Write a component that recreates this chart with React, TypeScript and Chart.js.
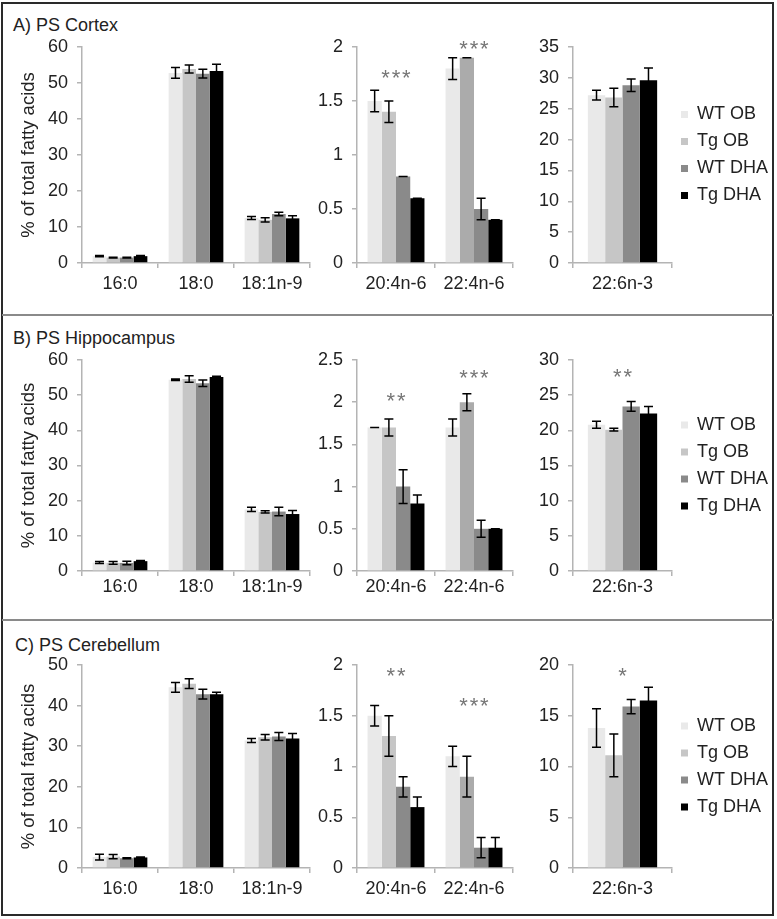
import React, { useEffect, useRef } from 'react';
import { Chart, registerables } from 'chart.js';

Chart.register(...registerables);

// ---------------- data ----------------
const SERIES = ['WT OB', 'Tg OB', 'WT DHA', 'Tg DHA'];
const SERIES_COLORS = ['#e9e9e9', '#c6c6c6', '#8a8a8a', '#000000'];
const TG_OB_N6_COLORS = ['#c6c6c6', '#ababab'];

const MAJOR_FA = ['16:0', '18:0', '18:1n-9'];
const N6_FA = ['20:4n-6', '22:4n-6'];
const DHA_FA = ['22:6n-3'];

const Y_TITLE = '% of total fatty acids';
const PANEL_TITLES = ['A) PS Cortex', 'B) PS Hippocampus', 'C) PS Cerebellum'];

// A) Cortex  (rows = series WT OB, Tg OB, WT DHA, Tg DHA)
const cortexMajorMean = [[1.9, 52.8, 12.5], [1.5, 53.9, 12.0], [1.5, 52.6, 13.6], [1.9, 53.3, 12.4]];
const cortexMajorErr = [[0.15, 1.5, 0.4], [0.1, 1.1, 0.6], [0.1, 1.2, 0.5], [0.15, 1.9, 0.7]];
const cortexN6Mean = [[1.5, 1.8], [1.4, 1.9], [0.8, 0.5], [0.6, 0.4]];
const cortexN6Err = [[0.1, 0.1], [0.1, 0], [0, 0.1], [0, 0]];
const cortexDhaMean = [[27.2], [26.8], [28.8], [29.6]];
const cortexDhaErr = [[0.8], [1.5], [1.0], [2.0]];
const cortexN6Stars = ['***', '***'];
const cortexN6StarAt = [1.75, 2.02];

// B) Hippocampus
const hippoMajorMean = [[2.4, 54.4, 17.5], [2.3, 54.6, 16.8], [2.3, 53.4, 16.9], [2.8, 55.2, 16.2]];
const hippoMajorErr = [[0.3, 0.2, 0.6], [0.4, 0.9, 0.3], [0.5, 0.9, 1.2], [0.2, 0.2, 1.0]];
const hippoN6Mean = [[1.7, 1.7], [1.7, 2.0], [1.0, 0.5], [0.8, 0.5]];
const hippoN6Err = [[0, 0.1], [0.1, 0.1], [0.2, 0.1], [0.1, 0]];
const hippoDhaMean = [[20.8], [20.1], [23.4], [22.4]];
const hippoDhaErr = [[0.5], [0.2], [0.7], [1.0]];
const hippoN6Stars = ['**', '***'];
const hippoN6StarAt = [2.06, 2.33];
const hippoDhaStars = ['**'];
const hippoDhaStarAt = [28.2];

// C) Cerebellum
const cereMajorMean = [[2.7, 44.5, 31.4], [2.8, 45.4, 32.2], [2.4, 42.8, 32.4], [2.6, 42.8, 31.9]];
const cereMajorErr = [[0.7, 1.2, 0.5], [0.5, 1.2, 0.7], [0.1, 1.2, 1.0], [0.1, 0.5, 1.2]];
const cereN6Mean = [[1.5, 1.1], [1.3, 0.9], [0.8, 0.2], [0.6, 0.2]];
const cereN6Err = [[0.1, 0.1], [0.2, 0.2], [0.1, 0.1], [0.1, 0.1]];
const cereDhaMean = [[13.8], [11.1], [15.9], [16.5]];
const cereDhaErr = [[1.9], [2.1], [0.7], [1.3]];
const cereN6Stars = ['**', '***'];
const cereN6StarAt = [1.93, 1.64];
const cereDhaStars = ['*'];
const cereDhaStarAt = [19.3];

// y-axis ranges [max, step]
const Y_MAJOR = [[60, 10], [60, 10], [50, 10]];
const Y_N6 = [[2, 0.5], [2.5, 0.5], [2, 0.5]];
const Y_DHA = [[35, 5], [30, 5], [20, 5]];

// ---------------- rendering ----------------
const FONT = '"Liberation Sans", Arial, Helvetica, sans-serif';
const TEXT = '#222222';
const AXIS = '#b4b4b4';

type Spec = {
  cats: string[];
  means: number[][];
  errs: number[][];
  yMax: number;
  yStep: number;
  stars?: string[];
  starAt?: number[];
  tgObColors?: string[];
  kind: 0 | 1 | 2;
};

const SUBS = [
  { left: 4, width: 308, axisW: 78, padR: 2, catPct: 0.72 },
  { left: 312, width: 203, axisW: 45, padR: 2, catPct: 0.73 },
  { left: 530, width: 246, axisW: 43, padR: 0, catPct: 0.7 },
];
const LEGEND_W = 104;
const PANELS = [
  { areaTop: 47, areaBottom: 263, labelPad: 5, titleTop: 14, titleLeft: 13 },
  { areaTop: 360, areaBottom: 571, labelPad: 0, titleTop: 327, titleLeft: 13 },
  { areaTop: 665, areaBottom: 868, labelPad: 5, titleTop: 634, titleLeft: 15 },
];
const PAD_TOP = 28;
const X_H = 45;

function SubChart({ spec, panel }: { spec: Spec; panel: number }) {
  const ref = useRef<HTMLCanvasElement | null>(null);
  const sub = SUBS[spec.kind];
  const P = PANELS[panel];
  const top = P.areaTop - PAD_TOP;
  const height = P.areaBottom - P.areaTop + PAD_TOP + X_H;

  useEffect(() => {
    if (!ref.current) return;
    const overlay = {
      id: 'errStars',
      afterDatasetsDraw(chart: any) {
        const ctx = chart.ctx;
        const ys = chart.scales.y;
        ctx.save();
        ctx.strokeStyle = '#000';
        ctx.lineWidth = 1.5;
        spec.means.forEach((row, i) => {
          const meta = chart.getDatasetMeta(i);
          meta.data.forEach((bar: any, j: number) => {
            const m = row[j];
            const e = spec.errs[i][j];
            const y1 = ys.getPixelForValue(m + e);
            const y2 = ys.getPixelForValue(m - e);
            const x = bar.x;
            const cw = 4.5;
            ctx.beginPath();
            ctx.moveTo(x, y1);
            ctx.lineTo(x, y2);
            ctx.moveTo(x - cw, y1);
            ctx.lineTo(x + cw, y1);
            ctx.moveTo(x - cw, y2);
            ctx.lineTo(x + cw, y2);
            ctx.stroke();
          });
        });
        if (spec.stars && spec.starAt) {
          ctx.fillStyle = '#767676';
          ctx.font = `22px ${FONT}`;
          ctx.textAlign = 'center';
          ctx.textBaseline = 'middle';
          spec.stars.forEach((s, j) => {
            if (!s) return;
            const x = chart.scales.x.getPixelForValue(j);
            const y = ys.getPixelForValue(spec.starAt![j]);
            ctx.fillText(s.split('').join('\u200A'), x, y + 5);
          });
        }
        ctx.restore();
      },
    };

    const datasets = SERIES.map((name, i) => ({
      label: name,
      data: spec.means[i],
      backgroundColor: i === 1 && spec.tgObColors ? spec.tgObColors : SERIES_COLORS[i],
      borderWidth: 0,
      categoryPercentage: sub.catPct,
      barPercentage: 1,
    }));

    const chart = new Chart(ref.current, {
      type: 'bar',
      data: { labels: spec.cats, datasets },
      plugins: [overlay],
      options: {
        animation: false,
        responsive: false,
        devicePixelRatio: 1,
        layout: { padding: { top: PAD_TOP, right: sub.padR, left: 0, bottom: 0 } },
        plugins: {
          tooltip: { enabled: false },
          legend: {
            display: spec.kind === 2,
            position: 'right',
            align: 'center',
            fullSize: false,
            maxWidth: LEGEND_W,
            labels: {
              boxWidth: 7,
              boxHeight: 7,
              padding: 9,
              color: TEXT,
              font: { size: 18, family: FONT },
            },
          },
        },
        scales: {
          x: {
            grid: { display: true, offset: true, drawOnChartArea: false, drawTicks: true, tickLength: 5, color: AXIS, lineWidth: 1.5 },
            border: { display: true, color: AXIS, width: 1.5 },
            ticks: { color: TEXT, font: { size: 18, family: FONT }, padding: P.labelPad, maxRotation: 0, autoSkip: false },
            afterFit: (s: any) => { s.height = X_H; },
          },
          y: {
            min: 0,
            max: spec.yMax,
            grid: { display: true, drawOnChartArea: false, drawTicks: true, tickLength: 5, color: AXIS, lineWidth: 1.5 },
            border: { display: true, color: AXIS, width: 1.5 },
            ticks: {
              stepSize: spec.yStep,
              color: TEXT,
              font: { size: 18, family: FONT },
              padding: 9,
              callback: (v: any) => String(Math.round(Number(v) * 100) / 100),
            },
            title: {
              display: spec.kind === 0,
              text: Y_TITLE,
              color: TEXT,
              font: { size: 18.5, family: FONT },
              padding: { top: 14, bottom: 0 },
            },
            afterFit: (s: any) => { s.width = sub.axisW; },
          },
        },
      } as any,
    });
    return () => chart.destroy();
  }, []);

  return (
    <canvas
      ref={ref}
      width={sub.width}
      height={height}
      style={{ position: 'absolute', left: sub.left, top, width: sub.width, height }}
    />
  );
}

const PANEL_SPECS: Spec[][] = [
  [
    { kind: 0, cats: MAJOR_FA, means: cortexMajorMean, errs: cortexMajorErr, yMax: Y_MAJOR[0][0], yStep: Y_MAJOR[0][1] },
    { kind: 1, cats: N6_FA, means: cortexN6Mean, errs: cortexN6Err, yMax: Y_N6[0][0], yStep: Y_N6[0][1], stars: cortexN6Stars, starAt: cortexN6StarAt, tgObColors: TG_OB_N6_COLORS },
    { kind: 2, cats: DHA_FA, means: cortexDhaMean, errs: cortexDhaErr, yMax: Y_DHA[0][0], yStep: Y_DHA[0][1] },
  ],
  [
    { kind: 0, cats: MAJOR_FA, means: hippoMajorMean, errs: hippoMajorErr, yMax: Y_MAJOR[1][0], yStep: Y_MAJOR[1][1] },
    { kind: 1, cats: N6_FA, means: hippoN6Mean, errs: hippoN6Err, yMax: Y_N6[1][0], yStep: Y_N6[1][1], stars: hippoN6Stars, starAt: hippoN6StarAt, tgObColors: TG_OB_N6_COLORS },
    { kind: 2, cats: DHA_FA, means: hippoDhaMean, errs: hippoDhaErr, yMax: Y_DHA[1][0], yStep: Y_DHA[1][1], stars: hippoDhaStars, starAt: hippoDhaStarAt },
  ],
  [
    { kind: 0, cats: MAJOR_FA, means: cereMajorMean, errs: cereMajorErr, yMax: Y_MAJOR[2][0], yStep: Y_MAJOR[2][1] },
    { kind: 1, cats: N6_FA, means: cereN6Mean, errs: cereN6Err, yMax: Y_N6[2][0], yStep: Y_N6[2][1], stars: cereN6Stars, starAt: cereN6StarAt, tgObColors: TG_OB_N6_COLORS },
    { kind: 2, cats: DHA_FA, means: cereDhaMean, errs: cereDhaErr, yMax: Y_DHA[2][0], yStep: Y_DHA[2][1], stars: cereDhaStars, starAt: cereDhaStarAt },
  ],
];

export default function App() {
  return (
    <div style={{ position: 'absolute', left: 0, top: 0, width: 777, height: 919, overflow: 'hidden', background: '#fff' }}>
      <div style={{ position: 'absolute', left: 1, top: 2, width: 773, height: 914, border: '2px solid #2a2a2a', boxSizing: 'border-box' }} />
      <div style={{ position: 'absolute', left: 2, top: 314, width: 771, height: 2, background: '#8a8a8a' }} />
      <div style={{ position: 'absolute', left: 2, top: 619, width: 771, height: 2, background: '#8a8a8a' }} />
      {PANEL_TITLES.map((t, p) => (
        <div
          key={t}
          style={{
            position: 'absolute',
            left: PANELS[p].titleLeft,
            top: PANELS[p].titleTop,
            font: `18px ${FONT}`,
            lineHeight: '22px',
            color: TEXT,
            whiteSpace: 'nowrap',
          }}
        >
          {t}
        </div>
      ))}
      {PANEL_SPECS.map((specs, p) =>
        specs.map((s, k) => <SubChart key={`${p}-${k}`} spec={s} panel={p} />)
      )}
    </div>
  );
}
